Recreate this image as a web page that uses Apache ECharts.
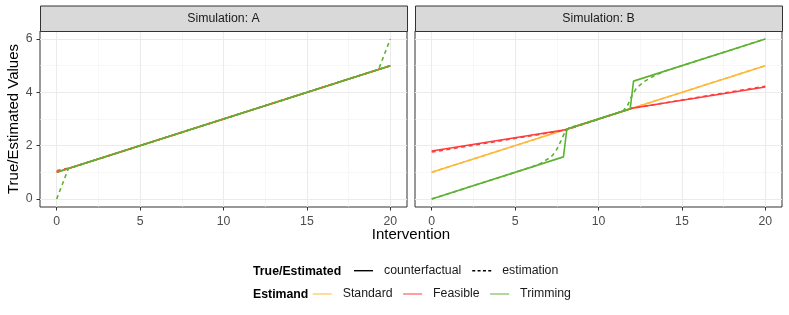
<!DOCTYPE html>
<html><head><meta charset="utf-8">
<script src="https://cdn.jsdelivr.net/npm/echarts@6/dist/echarts.min.js"></script>
<style>html,body{margin:0;padding:0;background:#fff}#c{width:789px;height:315px}</style>
</head><body><div id="c"></div>
<script>
// ---------- data ----------
const panelTitles = ['Simulation: A', 'Simulation: B'];
const xTicks = [0, 5, 10, 15, 20];
const xMinor = [2.5, 7.5, 12.5, 17.5];
const yTicks = [0, 2, 4, 6];
const yMinor = [1, 3, 5];
const estimands = ['Standard', 'Feasible', 'Trimming'];
const lineTypes = ['counterfactual', 'estimation'];

// Panel A
const A_std_cf_x = [0, 20];            const A_std_cf_y = [1, 5];
const A_std_est_x = [0, 20];           const A_std_est_y = [1, 5];
const A_fea_cf_x = [0, 20];            const A_fea_cf_y = [1, 5];
const A_fea_est_x = [0, 1, 20];        const A_fea_est_y = [1.06, 1.2, 5];
const A_tri_cf_x = [0, 20];            const A_tri_cf_y = [1, 5];
const A_tri_est_x = [0, 0.7, 19.3, 20]; const A_tri_est_y = [0, 1.14, 4.86, 6];

// Panel B
const B_std_cf_x = [0, 20];            const B_std_cf_y = [1, 5];
const B_std_est_x = [0, 20];           const B_std_est_y = [1, 5];
const B_fea_cf_x = [0, 8, 12, 20];     const B_fea_cf_y = [1.8, 2.6, 3.4, 4.2];
const B_fea_est_x = [0, 8, 12, 20];    const B_fea_est_y = [1.76, 2.58, 3.4, 4.23];
const B_tri_cf_x = [0, 7.9, 8.1, 11.9, 12.1, 20];
const B_tri_cf_y = [0, 1.58, 2.62, 3.38, 4.42, 6];
const B_tri_est_x = [0, 6, 6.5, 7, 7.25, 7.5, 7.75, 8, 8.25, 8.5, 9, 11, 11.5, 11.75, 12, 12.25, 12.5, 12.75, 13, 13.25, 13.5, 14, 20];
const B_tri_est_y = [0, 1.2, 1.32, 1.52, 1.64, 1.86, 2.18, 2.53, 2.67, 2.72, 2.8, 3.2, 3.32, 3.52, 3.87, 4.13, 4.28, 4.41, 4.5, 4.59, 4.67, 4.8, 6];

// ---------- styling ----------
const FONT = '"Liberation Sans", Arial, Helvetica, sans-serif';
const colors = { Standard: '#FDB83C', Feasible: '#FF3D3D', Trimming: '#5DB234' };
const DASH = [4, 3.5];
const LW = 1.6;

const gridsPx = [
  { left: 40, top: 31, width: 367, height: 176 },
  { left: 415, top: 31, width: 367, height: 176 }
];

const chart = echarts.init(document.getElementById('c'), null, { renderer: 'canvas' });

const grid = gridsPx.map(g => Object.assign({
  show: true, borderColor: '#333333', borderWidth: 1, backgroundColor: '#ffffff', containLabel: false
}, g));

const xAxis = [], yAxis = [];
gridsPx.forEach((g, gi) => {
  xAxis.push({
    type: 'value', gridIndex: gi, min: -1, max: 21, position: 'bottom',
    axisLine: { show: false, onZero: false },
    axisTick: { show: true, length: 3.5, customValues: xTicks, lineStyle: { color: '#333333', width: 1 } },
    axisLabel: { customValues: xTicks, color: '#4d4d4d', fontSize: 12.3, fontFamily: FONT, margin: 8.5 },
    splitLine: { show: false }
  });
  yAxis.push({
    type: 'value', gridIndex: gi, min: -0.3, max: 6.3, position: 'left',
    axisLine: { show: false, onZero: false },
    axisTick: { show: gi === 0, length: 3.5, customValues: yTicks, lineStyle: { color: '#333333', width: 1 } },
    axisLabel: { show: gi === 0, customValues: yTicks, color: '#4d4d4d', fontSize: 12.3, fontFamily: FONT, margin: 7.5 },
    splitLine: { show: false }
  });
});

function zip(xs, ys) { return xs.map((x, i) => [x, ys[i]]); }
function mk(name, est, type, xs, ys, gi) {
  return {
    name: name, type: 'line', xAxisIndex: gi, yAxisIndex: gi,
    data: zip(xs, ys), symbol: 'none', silent: true, animation: false,
    lineStyle: { color: colors[est], width: LW, type: type === 'estimation' ? DASH : 'solid' },
    itemStyle: { color: colors[est] }, z: 3
  };
}

// major / minor gridlines, placed through the axes as markLines
function gridLines(gi, xs, ys, color, width) {
  return {
    name: 'grid' + gi + '_' + width, type: 'line', xAxisIndex: gi, yAxisIndex: gi, data: [],
    silent: true, z: 0, symbol: 'none',
    markLine: {
      z: 0, silent: true, symbol: ['none', 'none'], animation: false, label: { show: false },
      lineStyle: { color: color, width: width, type: 'solid' },
      emphasis: { disabled: true },
      data: xs.map(v => ({ xAxis: v })).concat(ys.map(v => ({ yAxis: v })))
    }
  };
}

const series = [
  gridLines(0, xMinor, yMinor, '#f2f2f2', 0.6),
  gridLines(0, xTicks, yTicks, '#ebebeb', 1.1),
  gridLines(1, xMinor, yMinor, '#f2f2f2', 0.6),
  gridLines(1, xTicks, yTicks, '#ebebeb', 1.1),
  mk('A Standard cf', 'Standard', 'counterfactual', A_std_cf_x, A_std_cf_y, 0),
  mk('A Standard est', 'Standard', 'estimation', A_std_est_x, A_std_est_y, 0),
  mk('A Feasible cf', 'Feasible', 'counterfactual', A_fea_cf_x, A_fea_cf_y, 0),
  mk('A Feasible est', 'Feasible', 'estimation', A_fea_est_x, A_fea_est_y, 0),
  mk('A Trimming cf', 'Trimming', 'counterfactual', A_tri_cf_x, A_tri_cf_y, 0),
  mk('A Trimming est', 'Trimming', 'estimation', A_tri_est_x, A_tri_est_y, 0),
  mk('B Standard cf', 'Standard', 'counterfactual', B_std_cf_x, B_std_cf_y, 1),
  mk('B Standard est', 'Standard', 'estimation', B_std_est_x, B_std_est_y, 1),
  mk('B Feasible cf', 'Feasible', 'counterfactual', B_fea_cf_x, B_fea_cf_y, 1),
  mk('B Feasible est', 'Feasible', 'estimation', B_fea_est_x, B_fea_est_y, 1),
  mk('B Trimming cf', 'Trimming', 'counterfactual', B_tri_cf_x, B_tri_cf_y, 1),
  mk('B Trimming est', 'Trimming', 'estimation', B_tri_est_x, B_tri_est_y, 1)
];

// legend-only series (empty)
lineTypes.forEach(t => series.push({
  name: t, type: 'line', data: [], symbol: 'none', xAxisIndex: 0, yAxisIndex: 0,
  lineStyle: { color: '#000000', width: 1.4 }, itemStyle: { color: '#000000' }
}));
estimands.forEach(e => series.push({
  name: e, type: 'line', data: [], symbol: 'none', xAxisIndex: 0, yAxisIndex: 0,
  lineStyle: { color: colors[e], width: 1 }, itemStyle: { color: colors[e] }
}));

const SOLID_ICON = 'path://M0,0h19v1h-19z';
const DASH_ICON = 'path://M0,0h3v1h-3zM5.33,0h3v1h-3zM10.67,0h3v1h-3zM16,0h3v1h-3z';

const legendText = { color: '#1a1a1a', fontSize: 12.3, fontFamily: FONT, padding: [0, 0, 0, 6] };

const graphic = [];
gridsPx.forEach((g, gi) => {
  graphic.push({
    type: 'rect', left: g.left, top: 5.5, silent: true, z: 10,
    shape: { width: g.width, height: 25.5 },
    style: { fill: '#d9d9d9', stroke: '#333333', lineWidth: 1 }
  });
  graphic.push({
    type: 'text', x: g.left + g.width / 2, y: 18.5, silent: true, z: 11,
    style: { text: panelTitles[gi], fill: '#1a1a1a', font: '12.3px ' + FONT, align: 'center', verticalAlign: 'middle' }
  });
});
graphic.push({
  type: 'text', x: 411, y: 235, silent: true,
  style: { text: 'Intervention', fill: '#000000', font: '15px ' + FONT, align: 'center', verticalAlign: 'middle' }
});
graphic.push({
  type: 'text', x: 13.5, y: 119, rotation: Math.PI / 2, silent: true,
  style: { text: 'True/Estimated Values', fill: '#000000', font: '15px ' + FONT, align: 'center', verticalAlign: 'middle' }
});
graphic.push({
  type: 'text', x: 253, y: 271.7, silent: true,
  style: { text: 'True/Estimated', fill: '#000000', font: 'bold 12.3px ' + FONT, align: 'left', verticalAlign: 'middle' }
});
graphic.push({
  type: 'text', x: 253, y: 295, silent: true,
  style: { text: 'Estimand', fill: '#000000', font: 'bold 12.3px ' + FONT, align: 'left', verticalAlign: 'middle' }
});

chart.setOption({
  animation: false,
  backgroundColor: '#ffffff',
  grid: grid,
  xAxis: xAxis,
  yAxis: yAxis,
  legend: [
    { data: [
        { name: 'counterfactual', icon: SOLID_ICON },
        { name: 'estimation', icon: DASH_ICON }
      ],
      left: 354, top: 264.7, itemWidth: 19, itemHeight: 1.4, itemGap: 11, symbolKeepAspect: false,
      selectedMode: false, textStyle: legendText, padding: 0 },
    { data: estimands.map(e => ({ name: e, icon: SOLID_ICON })),
      left: 312.7, top: 288, itemWidth: 19, itemHeight: 1, itemGap: 10.5, symbolKeepAspect: false,
      selectedMode: false, textStyle: legendText, padding: 0 }
  ],
  series: series,
  graphic: graphic
});
</script>
</body></html>
